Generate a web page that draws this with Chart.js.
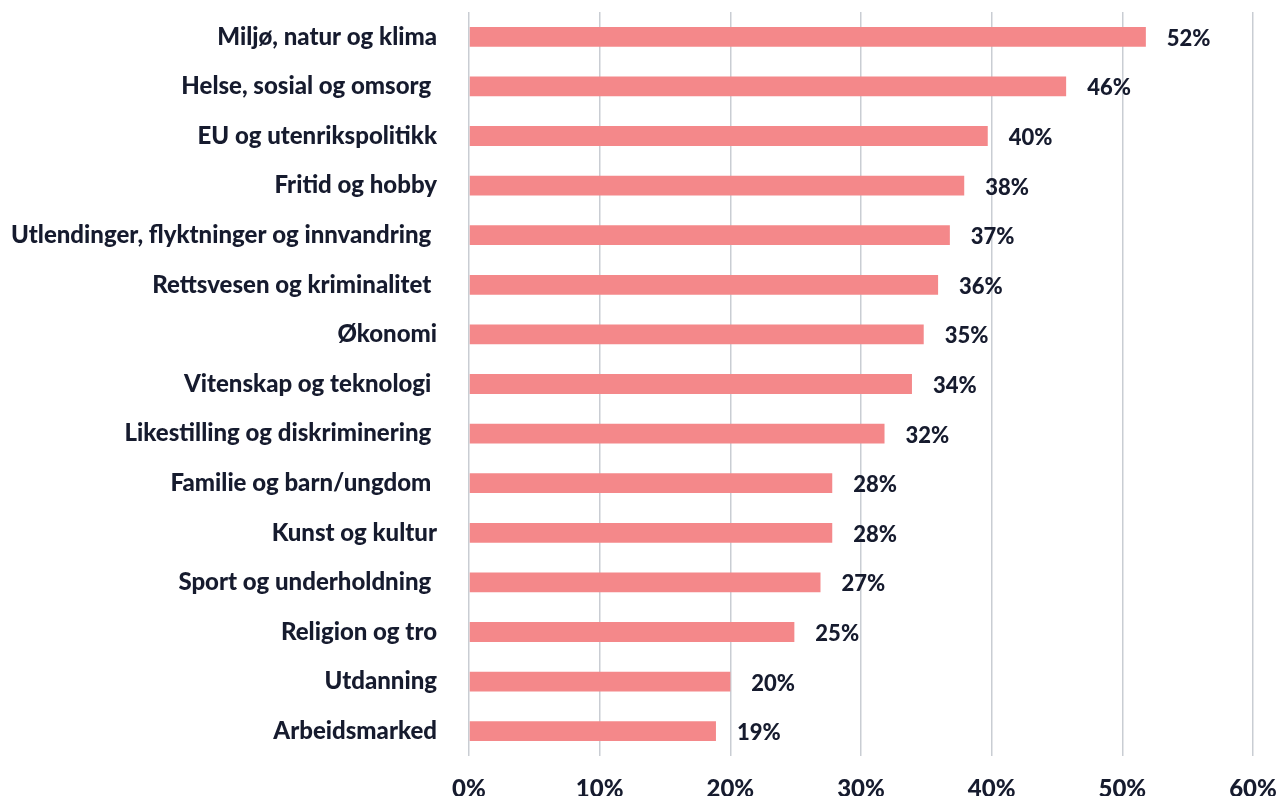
<!DOCTYPE html>
<html>
<head>
<meta charset="utf-8">
<script src="https://cdn.jsdelivr.net/npm/chart.js@4"></script>
<style>
  html, body { margin: 0; padding: 0; background: #fff; }
  #wrap { width: 1281px; height: 796px; }
</style>
</head>
<body>
<div id="wrap"><canvas id="chart" width="1281" height="796"></canvas></div>
<script>
// categories (top to bottom) and share in percent
const labels = [
  "Miljø, natur og klima",
  "Helse, sosial og omsorg ",
  "EU og utenrikspolitikk",
  "Fritid og hobby",
  "Utlendinger, flyktninger og innvandring ",
  "Rettsvesen og kriminalitet ",
  "Økonomi",
  "Vitenskap og teknologi ",
  "Likestilling og diskriminering ",
  "Familie og barn/ungdom ",
  "Kunst og kultur",
  "Sport og underholdning ",
  "Religion og tro",
  "Utdanning",
  "Arbeidsmarked"
];
const values = [51.8, 45.7, 39.7, 37.9, 36.8, 35.9, 34.8, 33.9, 31.8, 27.8, 27.8, 26.9, 24.9, 20.0, 18.9];
const xTicks = [0, 10, 20, 30, 40, 50, 60];

const textColor = "#161b2e";
const fontFamily = "Lato, 'Open Sans', sans-serif";

// draws the rounded value to the right of each bar
const valueLabels = {
  id: "valueLabels",
  afterDatasetsDraw(chart) {
    const ctx = chart.ctx;
    const meta = chart.getDatasetMeta(0);
    ctx.save();
    ctx.font = "900 22px " + fontFamily;
    ctx.fillStyle = textColor;
    ctx.textAlign = "left";
    ctx.textBaseline = "middle";
    meta.data.forEach((bar, i) => {
      ctx.fillText(Math.round(values[i]) + "%", bar.x + 21, bar.y + 2);
    });
    ctx.restore();
  }
};

new Chart(document.getElementById("chart").getContext("2d"), {
  type: "bar",
  data: {
    labels: labels,
    datasets: [{
      data: values,
      backgroundColor: "#f4888a",
      barPercentage: 0.8,
      categoryPercentage: 0.5
    }]
  },
  options: {
    indexAxis: "y",
    responsive: false,
    animation: false,
    layout: { padding: { top: 12, right: 28, bottom: 0, left: 0 } },
    plugins: {
      legend: { display: false },
      tooltip: { enabled: false }
    },
    scales: {
      x: {
        min: 0,
        max: 60,
        afterBuildTicks: scale => { scale.ticks = xTicks.map(v => ({ value: v })); },
        afterFit: scale => {
          scale.height = 40;
          scale.paddingLeft = 0;
          scale.paddingRight = 0;
        },
        border: { display: false },
        grid: { color: "#c9cdd3", lineWidth: 1.5, drawTicks: false },
        ticks: {
          padding: 19,
          color: textColor,
          font: { family: fontFamily, size: 24, weight: "900" },
          callback: v => v + "%"
        }
      },
      y: {
        afterFit: scale => {
          scale.width = 469;
          scale.paddingTop = 0;
          scale.paddingBottom = 0;
        },
        border: { display: false },
        grid: { display: false },
        ticks: {
          padding: 24,
          color: textColor,
          font: { family: fontFamily, size: 24, weight: "900" }
        }
      }
    }
  },
  plugins: [valueLabels]
});
</script>
</body>
</html>
